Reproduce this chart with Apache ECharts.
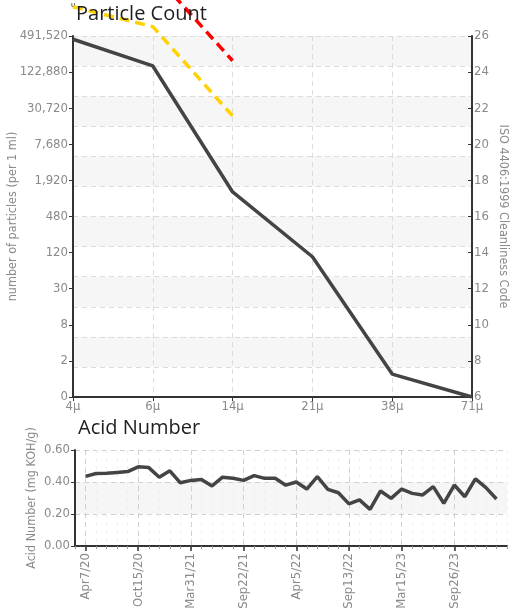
<!DOCTYPE html>
<html>
<head>
<meta charset="utf-8">
<script src="https://cdn.jsdelivr.net/npm/echarts@6/dist/echarts.min.js"></script>
<style>html,body{margin:0;padding:0;background:#fff;}#c{width:516px;height:613px;}</style>
</head>
<body>
<div id="c"></div>
<script>
// ---- Particle count chart data ----
const particleSizes = ['4μ', '6μ', '14μ', '21μ', '38μ', '71μ'];
// ISO 4406 code (continuous) of the measured sample
const particleCodes = [25.82, 24.34, 17.36, 13.77, 7.27, 6.0];
// limit lines (ISO code)
const yellowLimit = [27.62, 26.52, 21.57, '-', '-', '-'];
const redLimit = ['-', 29.54, 24.63, '-', '-', '-'];
// left tick labels (particles per 1 ml) for codes 6,8,...,26
const particleTickLabels = ['0', '2', '8', '30', '120', '480', '1,920', '7,680', '30,720', '122,880', '491,520'];

// ---- Acid number chart data ----
const acidDates = ['Apr7/20', 'May14/20', 'Jun18/20', 'Jul27/20', 'Sep2/20', 'Oct15/20', 'Nov19/20', 'Dec22/20', 'Jan28/21', 'Mar3/21',
  'Mar31/21', 'May5/21', 'Jun9/21', 'Jul14/21', 'Aug17/21', 'Sep22/21', 'Oct27/21', 'Dec1/21', 'Jan12/22', 'Feb23/22',
  'Apr5/22', 'May10/22', 'Jun14/22', 'Jul19/22', 'Aug16/22', 'Sep13/22', 'Oct18/22', 'Nov22/22', 'Jan4/23', 'Feb8/23',
  'Mar15/23', 'Apr19/23', 'May24/23', 'Jun28/23', 'Aug9/23', 'Sep26/23', 'Nov1/23', 'Dec6/23', 'Jan17/24', 'Feb21/24'];
const acidValues = [0.435, 0.453, 0.455, 0.46, 0.465, 0.495, 0.49, 0.43, 0.47, 0.395,
  0.41, 0.415, 0.375, 0.43, 0.423, 0.41, 0.44, 0.423, 0.423, 0.38,
  0.40, 0.356, 0.433, 0.354, 0.333, 0.263, 0.288, 0.229, 0.344, 0.298,
  0.356, 0.329, 0.319, 0.371, 0.267, 0.381, 0.308, 0.419, 0.365, 0.294];

const narrow = "'Liberation Sans Narrow', 'DejaVu Sans Condensed', sans-serif";
const lblColor = '#8a8a8a';

// padded categories so the line sits slightly inside the axis ends
const acidCats = [' '].concat(acidDates, ['  ']);
const acidSeries = ['-'].concat(acidValues, ['-']);
const isMajor = (i) => i >= 1 && i <= acidDates.length && (i - 1) % 5 === 0;

const chart = echarts.init(document.getElementById('c'), null, {renderer: 'canvas'});
chart.setOption({
  animation: false,
  backgroundColor: '#fff',
  title: [
    {text: 'Particle Count', left: 76, top: 4, padding: 0,
     textStyle: {fontSize: 20, fontWeight: 'normal', color: '#1e1e1e', fontFamily: "'Open Sans', 'Noto Sans', sans-serif"}},
    {text: 'Acid Number', left: 78, top: 418, padding: 0,
     textStyle: {fontSize: 20, fontWeight: 'normal', color: '#1e1e1e', fontFamily: "'Open Sans', 'Noto Sans', sans-serif"}}
  ],
  graphic: [
    {type: 'text', left: 71, top: 1, style: {text: 'u', fontSize: 8, fill: '#333', fontFamily: 'sans-serif'}}
  ],
  grid: [
    {left: 73, right: 44, top: 36, height: 361, outerBoundsMode: 'none', containLabel: false},
    {left: 75, right: 9, top: 450, height: 96, outerBoundsMode: 'none', containLabel: false}
  ],
  xAxis: [
    {type: 'category', gridIndex: 0, data: particleSizes, boundaryGap: false, position: 'bottom',
     axisLine: {lineStyle: {color: '#333', width: 2}},
     axisTick: {show: true, length: 4, lineStyle: {color: '#333'}},
     axisLabel: {color: lblColor, fontSize: 13, fontFamily: narrow, margin: 3, fontStyle: 'normal'},
     splitLine: {show: true, lineStyle: {color: '#dcdcdc', type: [5, 4]}}},
    {type: 'category', gridIndex: 1, data: acidCats, boundaryGap: false, position: 'bottom',
     axisLine: {show: false},
     axisTick: {show: true, interval: 0, length: 3, lineStyle: {color: '#999'}},
     axisLabel: {show: false},
     splitLine: {show: true, interval: 0, lineStyle: {color: '#eeeeee', type: [3, 5]}}},
    {type: 'category', gridIndex: 1, data: acidCats, boundaryGap: false, position: 'bottom',
     axisLine: {lineStyle: {color: '#333', width: 2}},
     axisTick: {show: true, interval: (i) => isMajor(i), length: 5, lineStyle: {color: '#333', width: 1.5}},
     axisLabel: {interval: (i) => isMajor(i), rotate: 90, color: lblColor, fontSize: 13, fontFamily: narrow, margin: 7},
     splitLine: {show: true, interval: (i) => isMajor(i), lineStyle: {color: '#d0d0d0', type: [5, 4]}}}
  ],
  yAxis: [
    {type: 'value', gridIndex: 0, position: 'left', min: 6, max: 26, interval: 2,
     name: 'number of particles (per 1 ml)', nameLocation: 'middle', nameGap: 54, nameMoveOverlap: false,
     nameTextStyle: {color: lblColor, fontSize: 12.5, fontFamily: narrow},
     axisLine: {show: true, lineStyle: {color: '#333', width: 2}},
     axisTick: {show: true, length: 4, lineStyle: {color: '#333'}},
     axisLabel: {color: lblColor, fontSize: 13, fontFamily: narrow, margin: 5,
       formatter: (v) => particleTickLabels[Math.round((v - 6) / 2)]},
     splitLine: {show: false}},
    {type: 'value', gridIndex: 0, position: 'right', min: 6, max: 26, interval: 2,
     name: 'ISO 4406:1999 Cleanliness Code', nameLocation: 'middle', nameGap: 25, nameRotate: -90, nameMoveOverlap: false,
     nameTextStyle: {color: lblColor, fontSize: 12.5, fontFamily: narrow},
     axisLine: {show: true, lineStyle: {color: '#333', width: 2}},
     axisTick: {show: true, length: 4, inside: true, lineStyle: {color: '#333'}},
     axisLabel: {color: lblColor, fontSize: 13, fontFamily: narrow, margin: 2},
     splitLine: {show: false}},
    {type: 'value', gridIndex: 0, position: 'left', min: 0, max: 12, interval: 1,
     axisLine: {show: false}, axisTick: {show: false}, axisLabel: {show: false},
     splitLine: {show: true, lineStyle: {color: '#dcdcdc', type: [5, 4]}},
     splitArea: {show: true, areaStyle: {color: ['rgba(255,255,255,0)', '#f6f6f6']}}},
    {type: 'value', gridIndex: 1, position: 'left', min: 0, max: 0.6, interval: 0.2,
     name: 'Acid Number (mg KOH/g)', nameLocation: 'middle', nameGap: 37, nameMoveOverlap: false,
     nameTextStyle: {color: lblColor, fontSize: 12.5, fontFamily: narrow},
     axisLine: {show: true, lineStyle: {color: '#333', width: 2}},
     axisTick: {show: true, length: 4, lineStyle: {color: '#333'}},
     axisLabel: {color: lblColor, fontSize: 13, fontFamily: narrow, margin: 5, formatter: (v) => v.toFixed(2)},
     splitLine: {show: true, lineStyle: {color: '#d0d0d0', type: [5, 4]}},
     splitArea: {show: true, areaStyle: {color: ['rgba(255,255,255,0)', '#f6f6f6']}}}
  ],
  series: [
    {type: 'line', xAxisIndex: 0, yAxisIndex: 0, data: yellowLimit, clip: false, symbol: 'none', z: 3,
     lineStyle: {color: '#FFD200', width: 3.5, type: [10, 6]}},
    {type: 'line', xAxisIndex: 0, yAxisIndex: 0, data: redLimit, clip: false, symbol: 'none', z: 3,
     lineStyle: {color: '#FF0000', width: 3.5, type: [10, 6]}},
    {type: 'line', xAxisIndex: 0, yAxisIndex: 0, data: particleCodes, symbol: 'none', z: 4,
     lineStyle: {color: '#444', width: 3.5}},
    {type: 'line', xAxisIndex: 1, yAxisIndex: 3, data: acidSeries, symbol: 'none', z: 4,
     lineStyle: {color: '#444', width: 3.5}}
  ]
});
</script>
</body>
</html>
